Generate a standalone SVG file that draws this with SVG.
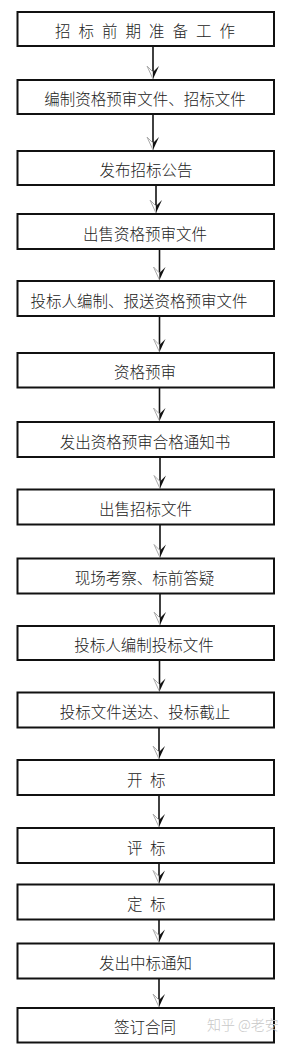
<svg xmlns="http://www.w3.org/2000/svg" xmlns:xlink="http://www.w3.org/1999/xlink" width="289" height="1045" viewBox="0 0 289 1045">
<style>
.box{fill:#fff;stroke:#111;stroke-width:2}
.t{font-family:"Noto Sans CJK SC","Noto Sans",sans-serif;font-size:15.5px;font-weight:300;fill:#222;text-anchor:middle}
.ts{font-family:"Noto Sans CJK SC","Noto Sans",sans-serif;font-size:15.5px;font-weight:300;fill:#222}
.sh{stroke:#111;stroke-width:1.6}
.wm{font-family:"Noto Sans CJK SC","Noto Sans",sans-serif;font-size:14px;font-weight:300;fill:#c8c8c8}
</style>
<defs>
<g id="ah">
<polygon points="0,0 -6,-13 0,-7" fill="#fff" stroke="#aaa" stroke-width="1"/>
<polygon points="0,0 6,-13 0,-7" fill="#111"/>
</g>
</defs>
<rect width="289" height="1045" fill="#fff"/>
<g id="connectors">
<line class="sh" x1="153" y1="46" x2="153" y2="75"/><use href="#ah" x="153" y="79"/>
<line class="sh" x1="153" y1="114" x2="153" y2="146"/><use href="#ah" x="153" y="150"/>
<line class="sh" x1="156" y1="185" x2="156" y2="209"/><use href="#ah" x="156" y="213"/>
<line class="sh" x1="159.5" y1="249" x2="159.5" y2="276"/><use href="#ah" x="159.5" y="280"/>
<line class="sh" x1="159.5" y1="316" x2="159.5" y2="348"/><use href="#ah" x="159.5" y="352"/>
<line class="sh" x1="159.5" y1="387.5" x2="159.5" y2="417"/><use href="#ah" x="159.5" y="421"/>
<line class="sh" x1="160" y1="457" x2="160" y2="484.5"/><use href="#ah" x="160" y="488.5"/>
<line class="sh" x1="160" y1="524.5" x2="160" y2="553.5"/><use href="#ah" x="160" y="557.5"/>
<line class="sh" x1="160" y1="593.5" x2="160" y2="621"/><use href="#ah" x="160" y="625"/>
<line class="sh" x1="159.5" y1="660" x2="159.5" y2="687.5"/><use href="#ah" x="159.5" y="691.5"/>
<line class="sh" x1="159" y1="727.5" x2="159" y2="755"/><use href="#ah" x="159" y="759"/>
<line class="sh" x1="159" y1="795" x2="159" y2="823"/><use href="#ah" x="159" y="827"/>
<line class="sh" x1="159" y1="863" x2="159" y2="879.5"/><use href="#ah" x="159" y="883.5"/>
<line class="sh" x1="159" y1="919.5" x2="159" y2="938.5"/><use href="#ah" x="159" y="942.5"/>
<line class="sh" x1="159" y1="978.5" x2="159" y2="1003"/><use href="#ah" x="159" y="1007"/>
</g>
<g id="n1"><rect class="box" x="17.5" y="12" width="256.5" height="34"/><text class="ts" x="55" y="37" letter-spacing="8">招标前期准备工作</text></g>
<g id="n2"><rect class="box" x="17.5" y="80" width="256.5" height="34"/><text class="t" x="145" y="105">编制资格预审文件、招标文件</text></g>
<g id="n3"><rect class="box" x="17.5" y="151" width="256.5" height="34"/><text class="t" x="146" y="176">发布招标公告</text></g>
<g id="n4"><rect class="box" x="17.5" y="214" width="256.5" height="35"/><text class="t" x="145" y="239.5">出售资格预审文件</text></g>
<g id="n5"><rect class="box" x="17.5" y="281" width="256.5" height="35"/><text class="t" x="139" y="306.5">投标人编制、报送资格预审文件</text></g>
<g id="n6"><rect class="box" x="17.5" y="353" width="256.5" height="34.5"/><text class="t" x="145" y="378">资格预审</text></g>
<g id="n7"><rect class="box" x="17.5" y="422" width="256.5" height="35"/><text class="t" x="145" y="447.5">发出资格预审合格通知书</text></g>
<g id="n8"><rect class="box" x="17.5" y="489.5" width="256.5" height="35"/><text class="t" x="145.5" y="515">出售招标文件</text></g>
<g id="n9"><rect class="box" x="17.5" y="558.5" width="256.5" height="35"/><text class="t" x="144.5" y="584">现场考察、标前答疑</text></g>
<g id="n10"><rect class="box" x="17.5" y="626" width="256.5" height="34"/><text class="t" x="144" y="651">投标人编制投标文件</text></g>
<g id="n11"><rect class="box" x="17.5" y="692.5" width="256.5" height="35"/><text class="t" x="145" y="718">投标文件送达、投标截止</text></g>
<g id="n12"><rect class="box" x="17.5" y="760" width="256.5" height="35"/><text class="ts" x="127" y="785.5" letter-spacing="2">开 标</text></g>
<g id="n13"><rect class="box" x="17.5" y="828" width="256.5" height="35"/><text class="ts" x="127" y="853.5" letter-spacing="2">评 标</text></g>
<g id="n14"><rect class="box" x="17.5" y="884.5" width="256.5" height="35"/><text class="ts" x="127" y="910" letter-spacing="2">定 标</text></g>
<g id="n15"><rect class="box" x="17.5" y="943.5" width="256.5" height="35"/><text class="t" x="145.5" y="969">发出中标通知</text></g>
<g id="n16"><rect class="box" x="17.5" y="1008" width="256.5" height="34.5"/><text class="t" x="145" y="1033">签订合同</text></g>
<text class="wm" x="207" y="1030">知乎 @老安</text>
</svg>
